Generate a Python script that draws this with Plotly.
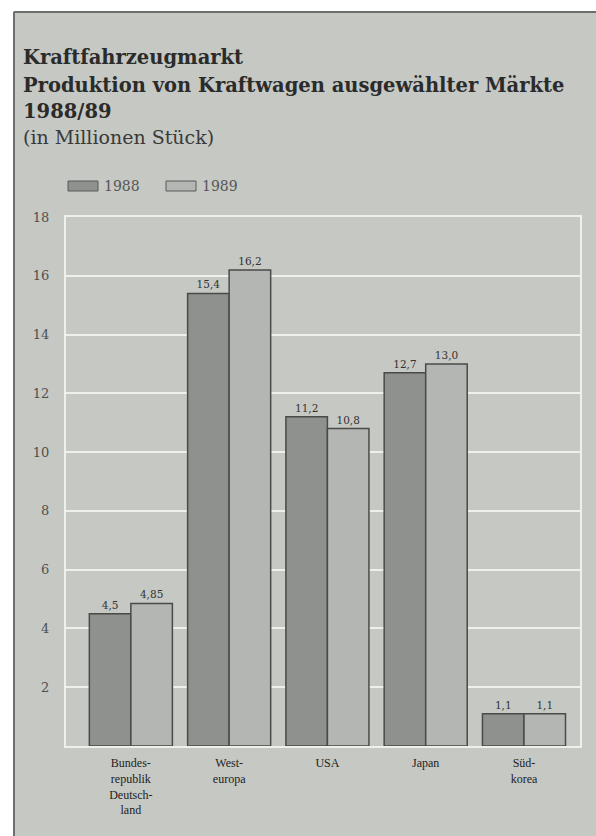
import plotly.graph_objects as go

categories = ["Bundes-<br>republik<br>Deutsch-<br>land", "West-<br>europa", "USA", "Japan", "Süd-<br>korea"]
series_names = ["1988", "1989"]
values_1988 = [4.5, 15.4, 11.2, 12.7, 1.1]
values_1989 = [4.85, 16.2, 10.8, 13.0, 1.1]
labels_1988 = ["4,5", "15,4", "11,2", "12,7", "1,1"]
labels_1989 = ["4,85", "16,2", "10,8", "13,0", "1,1"]
y_ticks = [2, 4, 6, 8, 10, 12, 14, 16, 18]

BG = "#c5c8c3"
C88 = "#8e918d"
C89 = "#b3b6b2"
EDGE = "#4a4b49"
SERIF = "DejaVu Serif"

W, H = 596, 836
ML, MR, MT, MB = 66, 16, 217, 90
PW, PH = W - ML - MR, H - MT - MB

def px(x):
    return (x - ML) / PW

def py(y):
    return (H - MB - y) / PH

fig = go.Figure()
for name, vals, labs, col in [(series_names[0], values_1988, labels_1988, C88),
                              (series_names[1], values_1989, labels_1989, C89)]:
    fig.add_trace(go.Bar(
        x=categories, y=vals, name=name, text=labs,
        textposition="outside", cliponaxis=False,
        textfont=dict(family=SERIF, size=10.5, color="#333333"),
        marker=dict(color=col, line=dict(color=EDGE, width=1.5)),
        showlegend=False,
    ))

shapes = []
# white margins top/left and dark border lines
shapes.append(dict(type="rect", xref="paper", yref="paper", x0=px(0), x1=px(13), y0=py(H), y1=py(0),
                   fillcolor="white", line=dict(width=0), layer="below"))
shapes.append(dict(type="rect", xref="paper", yref="paper", x0=px(0), x1=px(W), y0=py(11), y1=py(0),
                   fillcolor="white", line=dict(width=0), layer="below"))
shapes.append(dict(type="line", xref="paper", yref="paper", x0=px(14), x1=px(14), y0=py(H), y1=py(12),
                   line=dict(color="#6d6f6c", width=2)))
shapes.append(dict(type="line", xref="paper", yref="paper", x0=px(14), x1=px(W), y0=py(12), y1=py(12),
                   line=dict(color="#6d6f6c", width=2)))

# legend drawn manually
leg = [(68, 98, 102, C88, series_names[0]), (166, 196, 200, C89, series_names[1])]
annotations = []
for x0, x1, tx, col, nm in leg:
    shapes.append(dict(type="rect", xref="paper", yref="paper", x0=px(x0), x1=px(x1), y0=py(191), y1=py(181),
                       fillcolor=col, line=dict(color="#5a5b59", width=1)))
    annotations.append(dict(text=nm, xref="paper", yref="paper", x=px(tx), y=py(186), xanchor="left",
                            yanchor="middle", showarrow=False,
                            font=dict(family=SERIF, size=14, color="#555555")))

title_lines = [
    ("<b>Kraftfahrzeugmarkt</b>", 57, "#2b2b2b", 19.5),
    ("<b>Produktion von Kraftwagen ausgewählter Märkte</b>", 85, "#2b2b2b", 19.5),
    ("<b>1988/89</b>", 111, "#2b2b2b", 19.5),
    ("(in Millionen Stück)", 137, "#3a3a3a", 19),
]
for t, y, c, s in title_lines:
    annotations.append(dict(text=t, xref="paper", yref="paper", x=px(21), y=py(y), xanchor="left",
                            yanchor="middle", showarrow=False,
                            font=dict(family=SERIF, size=s, color=c)))

fig.update_layout(
    width=W, height=H,
    margin=dict(l=ML, r=MR, t=MT, b=MB, pad=0),
    paper_bgcolor=BG, plot_bgcolor=BG,
    barmode="group", bargap=0.155, bargroupgap=0,
    shapes=shapes, annotations=annotations,
    xaxis=dict(range=[-0.66, 4.57], showgrid=False, showline=True, linecolor="#eef0ec", linewidth=2,
               mirror=True, ticks="outside", ticklen=5, tickcolor="rgba(0,0,0,0)",
               tickfont=dict(family="Liberation Serif", size=12, color="#222222"), fixedrange=True),
    yaxis=dict(range=[0, 18], tickvals=y_ticks, showgrid=True, gridcolor="#eef0ec", gridwidth=2,
               showline=True, linecolor="#eef0ec", linewidth=2, mirror=True, zeroline=False,
               ticks="outside", ticklen=12, tickcolor="rgba(0,0,0,0)",
               tickfont=dict(family=SERIF, size=13, color="#505050"), fixedrange=True),
)

fig.write_html("out.html")
